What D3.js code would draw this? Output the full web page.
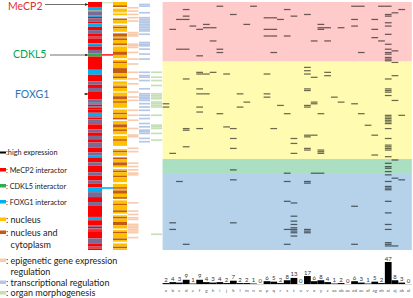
<!DOCTYPE html>
<html>
<head>
<meta charset="utf-8">
<script src="https://cdn.jsdelivr.net/npm/d3@7"></script>
<style>
  body { margin: 0; background: #fff; }
  svg { display: block; font-family: Lato, "Open Sans", sans-serif; }
</style>
</head>
<body>
<div class="chart"></div>
<script>
// --- Data ---
const colLabels = ["a","b","c","d","e","f","g","h","i","j","k","l","m","n","o","p","q","r","s","t","u","v","x","y","z",
  "aa","ab","ac","ad","ae","af","ag","ah","ai","aj","ak","al"];
const counts = [2,4,3,9,1,9,4,3,4,2,7,2,2,1,0,6,5,2,8,13,0,17,6,8,4,1,2,0,6,3,1,5,2,47,8,3,0];

// gene rows (0..149) with high expression, one list per column
const highRows = [
  [61,63],                       // a
  [16,91,133,137],               // b
  [10,28,108],                   // c
  [4,8,10,28,46,76,77,87,146],   // d
  [14],                          // e
  [16,32,42,43,52,55,63,66,76],  // f
  [13,15,43,55],                 // g
  [15,23,42],                    // h
  [2,28,30,67],                  // i
  [43,75],                       // j
  [7,76,82,88,101,107,133],      // k
  [55,63],                       // l
  [13,60],                       // m
  [2],                           // n
  [],                            // o
  [9,16,20,43,55,57],            // p
  [9,16,20,30,76],               // q
  [10,62],                       // r
  [4,20,67,103,108,120,137,146], // s
  [8,82,85,91,121,129,132,134,136,137,138,139,141], // t
  [],                            // u
  [7,39,41,43,52,53,62,63,80,81,88,89,108,109,137,138,139], // v
  [23,45,60,61,80,103],          // x
  [13,15,16,67,89,90,91,103],    // y
  [15,23,42,44],                 // z
  [57],                          // aa
  [15,60],                       // ab
  [],                            // ac
  [2,10,14,61,123,146],          // ad
  [2,30,67],                     // ae
  [74],                          // af
  [10,16,21,80,92],              // ag
  [2,23],                        // ah
  [2,7,8,12,14,19,25,28,30,31,33,34,35,46,52,53,54,56,68,69,70,71,72,73,76,82,86,87,88,89,
   93,97,99,100,102,104,108,111,112,113,120,127,134,137,145,146,147], // ai
  [6,29,36,44,59,95,106,147],    // aj
  [4,68,107],                    // ak
  []                             // al
];

const nRows = 150;
const groups = ["g1","g2","g3","g4"];
const groupStart = [0,36,95,104];
const groupEnd = [36,95,104,150];

// interactor column: [code, rows]
const interactorRuns = [
  ["M",3],["F",2],["X",1],["S",2],["F",1],["M",1],["S",2],["M",1],["F",2],["M",2],
  ["S",2],["M",2],["S",1],["M",3],["F",1],["S",1],["M",2],["S",2],["C",2],["M",8],
  ["F",3],["M",4],["S",2],["M",2],["S",2],["M",5],["S",2],["F",1],["M",1],["S",1],
  ["M",1],["M",2],["F",2],["S",1],["M",1],["S",1],["S",2],["M",3],["S",2],["M",2],
  ["S",2],["M",2],["S",3],["M",3],["S",2],["F",1],["M",3],["S",2],["M",4],["S",2],
  ["M",3],["S",2],["M",2],["F",3],["S",3],["M",3],["S",2],["M",7],["F",2],["M",3],
  ["S",1],["M",1],["S",1],["M",1],["M",4],["S",3],["M",2],["S",1],["M",1]
];
// localisation column
const locRuns = [
  ["Y",2],["O",1],["W",1],["Y",2],["L",1],["Y",1],["W",2],
  ["O",1],["Y",2],["W",1],["Y",1],["O",1],["Y",2],["W",1],["O",1],
  ["O",1],["Y",1],["O",1],["Y",2],["O",1],["L",1],["Y",3],
  ["O",2],["Y",2],["W",1],["Y",1],["O",1],["Y",3],
  ["O",3],["Y",2],["O",1],["Y",1],["W",1],["Y",2],
  ["Y",1],["O",1],["Y",2],["L",1],["Y",2],["O",2],["Y",1],
  ["O",1],["Y",3],["W",1],["Y",2],["O",1],["Y",2],
  ["O",1],["W",1],["Y",2],["O",2],["Y",1],["O",1],["Y",2],
  ["W",1],["Y",2],["O",1],["Y",3],["W",2],["Y",1],
  ["O",1],["Y",2],["W",1],["O",1],["Y",2],["O",2],["Y",1],
  ["W",1],["Y",1],["O",1],["Y",2],["O",1],["Y",3],["W",1],
  ["Y",2],["O",1],["Y",1],["O",2],["Y",2],["O",1],["W",1],
  ["Y",2],["O",1],["Y",3],["O",1],["Y",1],["W",1],["Y",1],
  ["O",1],["Y",2],["O",2],["Y",2],["W",1],["Y",1],["O",1],
  ["Y",3],["O",1],["Y",1],["W",1],["Y",2],["O",1],["Y",1]
];
const epiRows = [3,5,7,9,11,18,19,20,25,26,27,30,34,37,42,46,49,54,57,59,65,68,71,76,80,81,88,
  90,97,99,101,103,104,121,126,128,130,131,134,135,136,137,138,139,142];
const transRows = [1,2,6,9,10,11,12,13,14,15,16,17,19,24,25,26,28,31,34,42,44,45,47,52,55,56,57,58,59,
  61,63,65,68,70,73,75,77,78,79,82,84];
const organRows = [42,45,47,50,55,56,57,58,60,61,62,63,68,74,75,76,79,83,140];

const legendItems = [
  {key:"high", text:":high expression", y:155, size:7.3},
  {key:"M", text:": MeCP2 interactor", y:173, size:7.3},
  {key:"C", text:": CDKL5 interactor", y:189, size:7.3},
  {key:"F", text:": FOXG1 interactor", y:205, size:7.3},
  {key:"Y", text:": nucleus", y:222.5, size:9},
  {key:"O", text:": nucleus and", y:235.5, size:9},
  {key:null, text:"  cytoplasm", y:248, size:9},
  {key:"epi", text:": epigenetic gene expression", y:263.5, size:9},
  {key:null, text:"  regulation", y:275, size:9},
  {key:"trans", text:": transcriptional regulation", y:285.5, size:9},
  {key:"organ", text:": organ morphogenesis", y:296, size:9}
];

// --- Styles ---
const color = {
  M: "#ff0000", F: "#00b0f0", C: "#2fb050", S: "#7a6a94", X: "#8c9a78",
  Y: "#ffc000", O: "#c55a11", L: "#ffe38a", W: "none",
  epi: "#f8cbad", trans: "#b4c7e7", organ: "#c5e0b4", high: "#000"
};
const groupColor = { g1: "#ffcaca", g2: "#fffcb2", g3: "#abdfc2", g4: "#b5d2ea" };

const width = 413, height = 298;
const svg = d3.select(".chart").append("svg")
  .attr("width", width).attr("height", height);

const x = d3.scaleBand().domain(colLabels).range([162.6, 411.8]).padding(0);
const y = d3.scaleLinear().domain([0, nRows]).range([2, 250]);
const rowH = y(1) - y(0);

// --- Background groups ---
svg.append("g").selectAll("rect").data(groups).join("rect")
  .attr("x", x.range()[0]).attr("width", x.range()[1] - x.range()[0])
  .attr("y", (d, i) => y(groupStart[i]))
  .attr("height", (d, i) => y(groupEnd[i]) - y(groupStart[i]))
  .attr("fill", d => groupColor[d]);

// --- High expression marks ---
const marks = highRows.flatMap((rows, i) => rows.map(r => ({col: colLabels[i], row: r})));
svg.append("g").selectAll("rect").data(marks).join("rect")
  .attr("x", d => x(d.col)).attr("width", x.bandwidth())
  .attr("y", d => y(d.row) + 0.3).attr("height", rowH * 0.75)
  .attr("fill", "#000").attr("opacity", 0.58);

// --- Left annotation columns ---
function runsToRows(runs) {
  let r = 0;
  return runs.map(([code, n]) => { const o = {code, start: r, n}; r += n; return o; });
}
function stripeCol(data, x0, w) {
  svg.append("g").selectAll("rect").data(data).join("rect")
    .attr("x", x0).attr("width", w)
    .attr("y", d => y(d.start)).attr("height", d => y(d.start + d.n) - y(d.start))
    .attr("fill", d => color[d.code]);
}
stripeCol(runsToRows(interactorRuns), 88, 14);
stripeCol(runsToRows(locRuns), 113, 14);
stripeCol(epiRows.map(r => ({code: "epi", start: r, n: 1})), 127.5, 11);
stripeCol(transRows.map(r => ({code: "trans", start: r, n: 1})), 139, 11);
stripeCol(organRows.map(r => ({code: "organ", start: r, n: 1})), 151, 11);

// connector lines (CDKL5 / FOXG1 rows)
svg.append("line").attr("x1", 102).attr("x2", 113).attr("y1", y(32)).attr("y2", y(32))
  .attr("stroke", "#ff0000").attr("stroke-width", 1.4);
svg.append("line").attr("x1", 102).attr("x2", 113).attr("y1", y(112.5)).attr("y2", y(112.5))
  .attr("stroke", "#00b0f0").attr("stroke-width", 1.6);
svg.append("line").attr("x1", 102).attr("x2", 113).attr("y1", y(0.5)).attr("y2", y(0.5))
  .attr("stroke", "#c5e0b4").attr("stroke-width", 1);

// --- Gene labels with arrows ---
const defs = svg.append("defs");
defs.append("marker").attr("id", "arr").attr("viewBox", "0 0 6 6").attr("refX", 6).attr("refY", 3)
  .attr("markerWidth", 4).attr("markerHeight", 4).attr("orient", "auto")
  .append("path").attr("d", "M0,0L6,3L0,6Z").attr("fill", "#222");

const genes = [
  {name: "MeCP2", x: 8, y: 10, fill: "#e0302c", lx: 45, ly: 4.5},
  {name: "CDKL5", x: 13, y: 58, fill: "#00a550", lx: 50, ly: 55},
  {name: "FOXG1", x: 15, y: 98, fill: "#2e75b6", lx: 84, ly: 94}
];
svg.append("g").selectAll("text").data(genes).join("text")
  .attr("x", d => d.x).attr("y", d => d.y).attr("fill", d => d.fill)
  .attr("font-size", 10.5).text(d => d.name);
svg.append("g").selectAll("line").data(genes).join("line")
  .attr("x1", d => d.lx).attr("x2", 88).attr("y1", d => d.ly).attr("y2", d => d.ly)
  .attr("stroke", "#333").attr("stroke-width", 0.7).attr("marker-end", "url(#arr)");

// --- Legend ---
const lg = svg.append("g");
lg.selectAll("rect").data(legendItems.filter(d => d.key)).join("rect")
  .attr("x", 0).attr("width", 6)
  .attr("y", d => d.key === "high" ? d.y - 3.5 : d.y - 5)
  .attr("height", d => d.key === "high" ? 2 : 3.5)
  .attr("fill", d => color[d.key]);
lg.selectAll("text").data(legendItems).join("text")
  .attr("x", 6).attr("y", d => d.y).attr("font-size", d => d.size)
  .attr("fill", "#222").attr("xml:space", "preserve").style("white-space", "pre")
  .text(d => d.text);

// --- Bottom count bars ---
const baseY = 284;
const h = d3.scaleLinear().domain([0, 47]).range([0, 22]);
const bars = colLabels.map((c, i) => ({col: c, v: counts[i]}));
svg.append("line").attr("x1", x.range()[0]).attr("x2", x.range()[1])
  .attr("y1", baseY + 0.5).attr("y2", baseY + 0.5).attr("stroke", "#bbb").attr("stroke-width", 0.6);
svg.append("g").selectAll("rect").data(bars).join("rect")
  .attr("x", d => x(d.col)).attr("width", x.bandwidth())
  .attr("y", d => baseY - h(d.v)).attr("height", d => h(d.v))
  .attr("fill", "#000");
svg.append("g").selectAll("text").data(bars).join("text")
  .attr("x", d => x(d.col) + x.bandwidth() / 2).attr("y", d => baseY - h(d.v) - 1.5)
  .attr("text-anchor", "middle").attr("font-size", 6).attr("fill", "#333")
  .text(d => d.v);
svg.append("g").selectAll("text").data(bars).join("text")
  .attr("x", d => x(d.col) + x.bandwidth() / 2).attr("y", 292)
  .attr("text-anchor", "middle").attr("font-size", 4.6).attr("fill", "#555")
  .text(d => d.col);
</script>
</body>
</html>
